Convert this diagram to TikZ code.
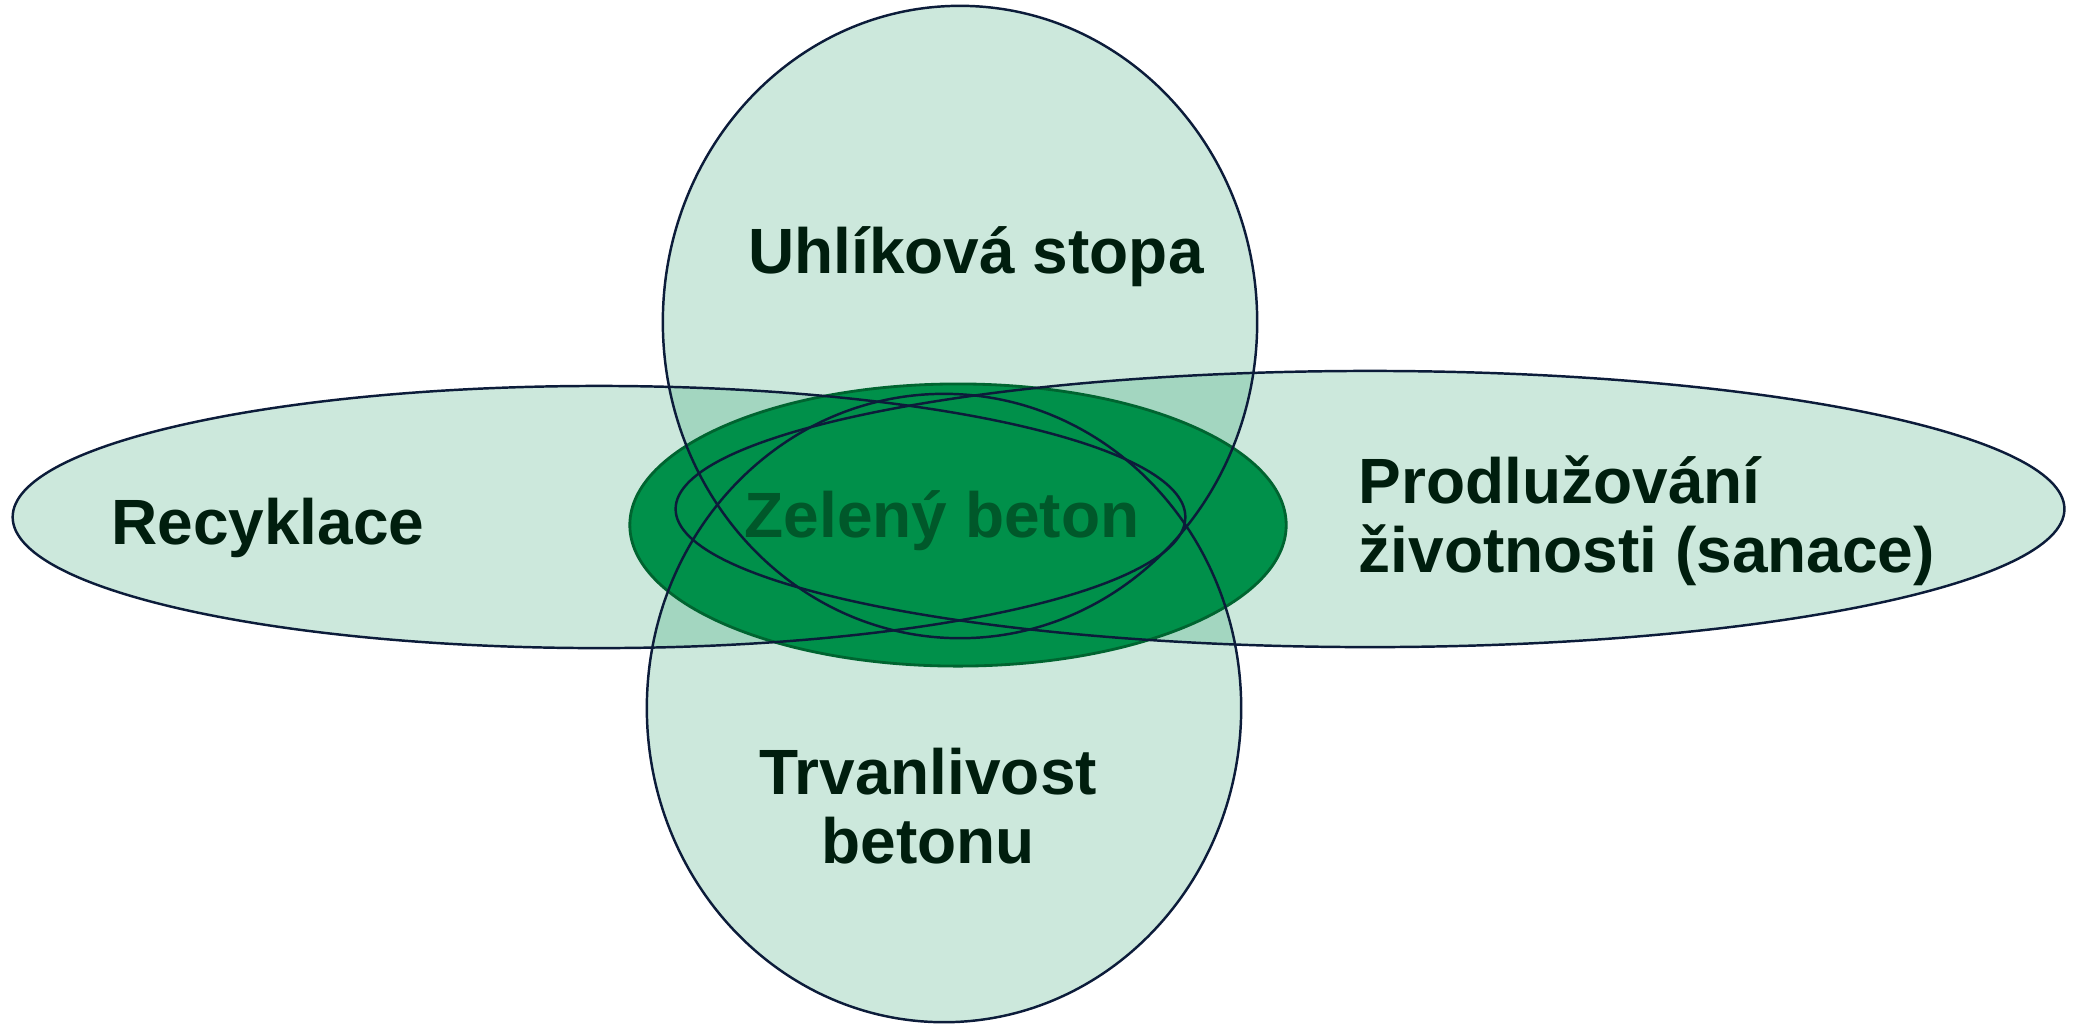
\documentclass[tikz,border=0pt]{standalone}
\usepackage{fontspec}
\setmainfont{Liberation Sans}
\definecolor{petal}{RGB}{0,140,80}
\definecolor{coregreen}{RGB}{0,144,74}
\definecolor{coreedge}{RGB}{0,100,48}
\definecolor{rim}{RGB}{12,28,58}
\definecolor{labelink}{RGB}{0,30,14}
\definecolor{coreink}{RGB}{0,88,42}
\tikzset{
  petalfill/.style={fill=petal, fill opacity=0.2},
  petalrim/.style={draw=rim, line width=0.7pt},
  label/.style={font=\fontsize{18.2}{19.5}\selectfont\bfseries, text=labelink, inner sep=0pt, anchor=base},
}
\begin{document}
\begin{tikzpicture}[x=0.01cm,y=-0.01cm]
\useasboundingbox (0,0) rectangle (2080,1026);
% centres of the four sets and the core
\coordinate (uhl) at (960,322);
\coordinate (trv) at (944,708);
\coordinate (rec) at (599,517);
\coordinate (pro) at (1370,509);
\coordinate (core) at (958,525);
% translucent fills of the four sets
\path[petalfill] (uhl) ellipse [x radius=2.97cm, y radius=3.16cm];
\path[petalfill] (trv) ellipse [x radius=2.97cm, y radius=3.14cm];
\path[petalfill] (rec) ellipse [x radius=5.86cm, y radius=1.31cm];
\path[petalfill] (pro) ellipse [x radius=6.94cm, y radius=1.38cm];
% the core
\path[fill=coregreen, draw=coreedge, line width=0.8pt] (core) ellipse [x radius=3.28cm, y radius=1.41cm];
% outlines of the four sets on top
\path[petalrim] (uhl) ellipse [x radius=2.97cm, y radius=3.16cm];
\path[petalrim] (trv) ellipse [x radius=2.97cm, y radius=3.14cm];
\path[petalrim] (rec) ellipse [x radius=5.86cm, y radius=1.31cm];
\path[petalrim] (pro) ellipse [x radius=6.94cm, y radius=1.38cm];
% labels, placed by the baseline of their last line
\node[label] (tuhl) at (976,273) {Uhlíková stopa};
\node[label] (trec) at (268,544) {Recyklace};
\node[label, align=left, anchor=base west] (tpro) at (1358,572) {Prodlužování\\životnosti (sanace)};
\node[label, align=center] (ttrv) at (928,863) {Trvanlivost\\betonu};
\node[label, text=coreink] (tcore) at (942,537) {Zelený beton};
\end{tikzpicture}
\end{document}
